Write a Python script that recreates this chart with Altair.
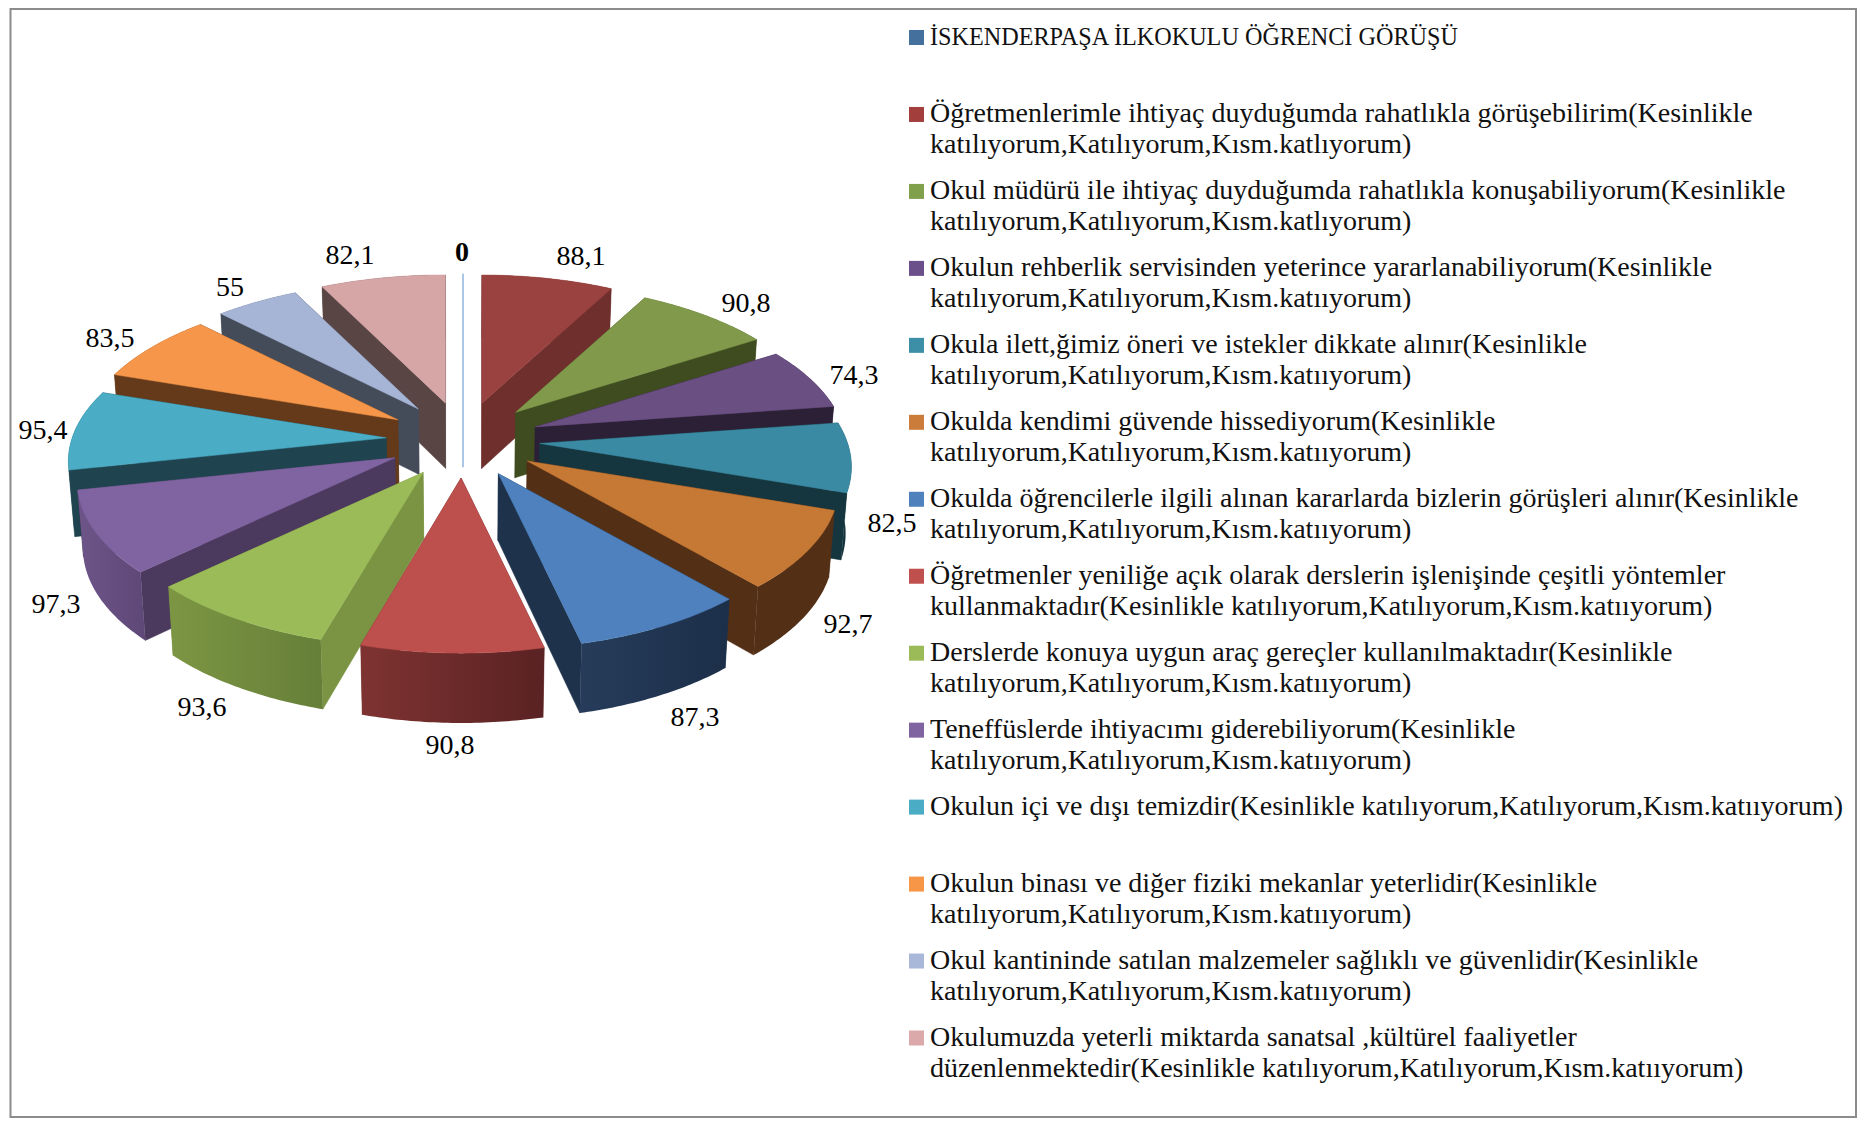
import math
import altair as alt

VALUES = [0, 88.1, 90.8, 74.3, 82.5, 92.7, 87.3, 90.8, 93.6, 97.3, 95.4, 83.5, 55, 82.1]
VALUE_TEXT = ["0", "88,1", "90,8", "74,3", "82,5", "92,7", "87,3", "90,8", "93,6", "97,3", "95,4", "83,5", "55", "82,1"]
TOP = ["#7FA8D8", "#9A4240", "#80994A", "#6A4F82", "#3B8AA3", "#C67935", "#4E81BD", "#BD4F4C",
       "#9BBB59", "#8064A2", "#4BACC6", "#F5964A", "#A6B5D5", "#D6A5A6"]
SIDE = ["#7FA8D8", "#6F2F2D", "#3F4C20", "#2B2036", "#16363F", "#532F16", "#1E324C", "#6E2A2A",
        "#7B9443", "#4B3A5E", "#1F444F", "#653A1B", "#444C5A", "#594544"]
OUTER_L = ["#7FA8D8", "#6F2F2D", "#3F4C20", "#2B2036", "#16363F", "#532F16", "#263C5A", "#7E3331",
           "#7C9644", "#6E5589", "#1F444F", "#653A1B", "#444C5A", "#594544"]
OUTER_R = ["#7FA8D8", "#6F2F2D", "#3F4C20", "#2B2036", "#16363F", "#532F16", "#1C2F49", "#5A2223",
           "#667F38", "#5E4877", "#1F444F", "#653A1B", "#444C5A", "#594544"]
SWATCH = ["#44709E", "#A23F3D", "#80A04B", "#6B4F8A", "#3C8FA7", "#CC7C3A", "#4F81BD", "#C0504D",
          "#9BBB59", "#8064A2", "#4BACC6", "#F79646", "#A9B8D8", "#DBA9A9"]
LEGEND = [
    ["İSKENDERPAŞA İLKOKULU ÖĞRENCİ GÖRÜŞÜ"],
    ["Öğretmenlerimle ihtiyaç duyduğumda rahatlıkla görüşebilirim(Kesinlikle", "katılıyorum,Katılıyorum,Kısm.katlıyorum)"],
    ["Okul müdürü ile ihtiyaç duyduğumda rahatlıkla konuşabiliyorum(Kesinlikle", "katılıyorum,Katılıyorum,Kısm.katlıyorum)"],
    ["Okulun rehberlik servisinden yeterince yararlanabiliyorum(Kesinlikle", "katılıyorum,Katılıyorum,Kısm.katııyorum)"],
    ["Okula ilett,ğimiz öneri ve istekler dikkate alınır(Kesinlikle", "katılıyorum,Katılıyorum,Kısm.katııyorum)"],
    ["Okulda kendimi güvende hissediyorum(Kesinlikle", "katılıyorum,Katılıyorum,Kısm.katııyorum)"],
    ["Okulda öğrencilerle ilgili alınan kararlarda bizlerin görüşleri alınır(Kesinlikle", "katılıyorum,Katılıyorum,Kısm.katııyorum)"],
    ["Öğretmenler yeniliğe açık olarak derslerin işlenişinde çeşitli yöntemler", "kullanmaktadır(Kesinlikle katılıyorum,Katılıyorum,Kısm.katııyorum)"],
    ["Derslerde konuya uygun araç gereçler kullanılmaktadır(Kesinlikle", "katılıyorum,Katılıyorum,Kısm.katııyorum)"],
    ["Teneffüslerde ihtiyacımı giderebiliyorum(Kesinlikle", "katılıyorum,Katılıyorum,Kısm.katııyorum)"],
    ["Okulun içi ve dışı temizdir(Kesinlikle katılıyorum,Katılıyorum,Kısm.katııyorum)"],
    ["Okulun binası ve diğer fiziki mekanlar yeterlidir(Kesinlikle", "katılıyorum,Katılıyorum,Kısm.katııyorum)"],
    ["Okul kantininde satılan malzemeler sağlıklı ve güvenlidir(Kesinlikle", "katılıyorum,Katılıyorum,Kısm.katııyorum)"],
    ["Okulumuzda yeterli miktarda sanatsal ,kültürel faaliyetler", "düzenlenmektedir(Kesinlikle katılıyorum,Katılıyorum,Kısm.katııyorum)"],
]
# label anchors relative to the pie centre
LABEL_DX = [-1, 118, 283, 391, 429, 385, 232, -13, -261, -407, -420, -353, -233, -113]
LABEL_DY = [187, 183, 136, 64, -84, -185, -278, -306, -268, -165, 9, 101, 152, 184]
PAINT_ORDER = [0, 1, 13, 2, 12, 3, 11, 4, 10, 5, 9, 6, 8, 7]

FONT = "Liberation Serif"
LEGEND_SIZE = 28
HEADER_SIZE = 24.2
LABEL_SIZE = 28
W, H = 1849, 1110
CX, CY = 455, 432
RX, RX_LEFT, RY, PERSP = 308, 314, 148, 0.155
EX, EY = 77, 38
projection = dict(type="identity", reflectY=True, scale=1, translate=[CX, CY])


def rim(apex, t, rx):
    X, Y = math.sin(t), math.cos(t)
    s = 1 / (1 + PERSP * Y)
    return (apex[0] + rx * X * s, apex[1] + RY * Y * s)


def low(p):
    return (p[0] * 0.985, p[1] - (66 - p[1] * 0.018))


def shape(points, kind="Polygon"):
    pts = [list(p) for p in points]
    if kind == "Polygon":
        coords = [pts + [pts[0]]]
    else:
        coords = pts
    feature = {"type": "Feature", "properties": {}, "geometry": {"type": kind, "coordinates": coords}}
    return alt.Data(values={"type": "FeatureCollection", "features": [feature]},
                    format=alt.DataFormat(property="features", type="json"))


total = sum(VALUES)
starts = []
acc = 0
for v in VALUES:
    starts.append(acc)
    acc += v

layers = []
for i in PAINT_ORDER:
    t0 = starts[i] / total * 2 * math.pi
    t1 = (starts[i] + VALUES[i]) / total * 2 * math.pi
    m = (t0 + t1) / 2
    apex = (EX * math.sin(m), EY * math.cos(m))
    rx = RX_LEFT if m > 1.1 * math.pi else RX
    if VALUES[i] == 0:
        a = rim(apex, t0, rx)
        layers.append(alt.Chart(shape([a, low(apex)], "LineString")).mark_geoshape(
            filled=False, stroke=TOP[i], strokeWidth=1.3).project(**projection))
        continue
    n = 40
    arc = [rim(apex, t0 + (t1 - t0) * k / n, rx) for k in range(n + 1)]
    for edge in (arc[0], arc[-1]):
        layers.append(alt.Chart(shape([apex, edge, low(edge), low(apex)])).mark_geoshape(
            fill=SIDE[i], stroke=SIDE[i], strokeWidth=0.5).project(**projection))
    wall = arc + [low(p) for p in reversed(arc)]
    grad = alt.LinearGradient(gradient="linear", x1=0, x2=1, y1=0, y2=0,
                              stops=[alt.GradientStop(color=OUTER_L[i], offset=0),
                                     alt.GradientStop(color=OUTER_R[i], offset=1)])
    layers.append(alt.Chart(shape(wall)).mark_geoshape(fill=grad, strokeWidth=0).project(**projection))
    layers.append(alt.Chart(shape([apex] + arc)).mark_geoshape(
        fill=TOP[i], stroke=TOP[i], strokeWidth=0.5).project(**projection))

label_rows = [{"lon": LABEL_DX[i], "lat": LABEL_DY[i], "t": VALUE_TEXT[i]}
              for i in range(len(VALUES)) if VALUES[i] != 0]
zero_rows = [{"lon": LABEL_DX[i], "lat": LABEL_DY[i], "t": VALUE_TEXT[i]}
             for i in range(len(VALUES)) if VALUES[i] == 0]
labels = alt.Chart(alt.Data(values=label_rows)).mark_text(
    font=FONT, fontSize=LABEL_SIZE, color="#000000", align="center", baseline="middle"
).encode(longitude="lon:Q", latitude="lat:Q", text="t:N").project(**projection)
zero_label = alt.Chart(alt.Data(values=zero_rows)).mark_text(
    font=FONT, fontSize=LABEL_SIZE, fontWeight="bold", color="#000000", align="center", baseline="middle"
).encode(longitude="lon:Q", latitude="lat:Q", text="t:N").project(**projection)

LINE_STEP = 31 / 77
y_enc = alt.Y("pos:Q", scale=alt.Scale(domain=[0, 13], range=[29.5, 1030], zero=False, nice=False), axis=None)
legend_rows = []
header_rows = []
for e, lines in enumerate(LEGEND):
    for j, line in enumerate(lines):
        (header_rows if e == 0 else legend_rows).append({"pos": e + j * LINE_STEP, "t": line})
legend_text = alt.Chart(alt.Data(values=legend_rows)).mark_text(
    font=FONT, fontSize=LEGEND_SIZE, color="#111111", align="left", baseline="middle"
).encode(x=alt.value(922), y=y_enc, text="t:N")
header_text = alt.Chart(alt.Data(values=header_rows)).mark_text(
    font=FONT, fontSize=HEADER_SIZE, color="#111111", align="left", baseline="middle"
).encode(x=alt.value(922), y=y_enc, text="t:N")

swatch_rows = [{"pos": e, "c": c} for e, c in enumerate(SWATCH)]
swatches = alt.Chart(alt.Data(values=swatch_rows)).mark_square(size=225, opacity=1).encode(
    x=alt.value(908.5), y=y_enc, color=alt.Color("c:N", scale=None))

frame_data = alt.Data(values=[{"a": 1}])
frame = [
    alt.Chart(frame_data).mark_rule(color="#8C8C8C", strokeWidth=2).encode(
        x=alt.value(2.5), y=alt.value(0), y2=alt.value(H)),
    alt.Chart(frame_data).mark_rule(color="#8C8C8C", strokeWidth=2).encode(
        x=alt.value(W - 1), y=alt.value(0), y2=alt.value(H)),
    alt.Chart(frame_data).mark_rule(color="#8C8C8C", strokeWidth=2).encode(
        y=alt.value(1), x=alt.value(2.5), x2=alt.value(W - 1)),
    alt.Chart(frame_data).mark_rule(color="#8C8C8C", strokeWidth=2).encode(
        y=alt.value(H - 1), x=alt.value(2.5), x2=alt.value(W - 1)),
]

chart = alt.layer(*frame, *layers, labels, zero_label, header_text, legend_text, swatches).properties(
    width=W, height=H, padding=0, autosize=alt.AutoSizeParams(type="none"), background="#FFFFFF"
).configure_view(stroke=None)

chart.save("out.html", embed_options={"renderer": "svg", "actions": False})
